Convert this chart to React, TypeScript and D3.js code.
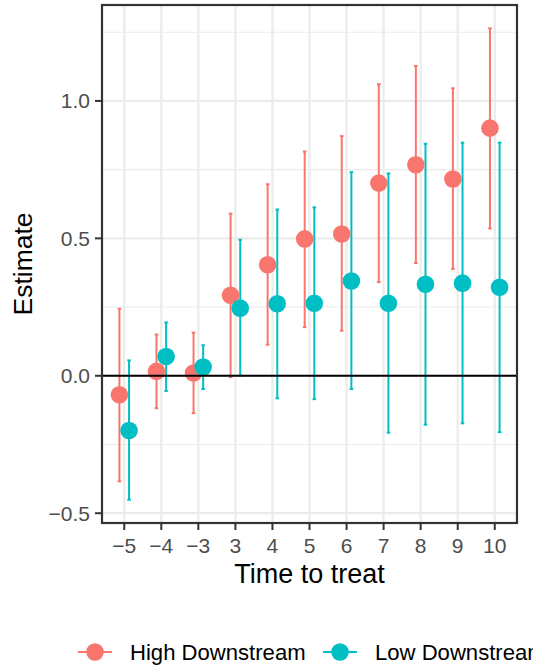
import React from "react";
import * as d3 from "d3";

const categories = ["-5", "-4", "-3", "3", "4", "5", "6", "7", "8", "9", "10"];
const tickLabels = ["\u22125", "\u22124", "\u22123", "3", "4", "5", "6", "7", "8", "9", "10"];
const seriesNames = ["High Downstream", "Low Downstream"];
const seriesColors = ["#F8766D", "#00BFC4"];

const highEst = [-0.069, 0.016, 0.010, 0.293, 0.404, 0.498, 0.516, 0.701, 0.768, 0.716, 0.901];
const highLo = [-0.384, -0.118, -0.136, -0.005, 0.113, 0.177, 0.164, 0.341, 0.410, 0.389, 0.536];
const highHi = [0.244, 0.150, 0.157, 0.590, 0.697, 0.816, 0.872, 1.061, 1.127, 1.046, 1.264];

const lowEst = [-0.199, 0.070, 0.032, 0.246, 0.262, 0.264, 0.345, 0.264, 0.333, 0.337, 0.322];
const lowLo = [-0.451, -0.055, -0.048, 0.001, -0.082, -0.085, -0.048, -0.207, -0.178, -0.173, -0.205];
const lowHi = [0.056, 0.194, 0.111, 0.495, 0.605, 0.613, 0.741, 0.736, 0.844, 0.848, 0.848];

const yTicks = [-0.5, 0, 0.5, 1.0];
const yMinor = [-0.25, 0.25, 0.75, 1.25];

const W = 533;
const H = 667;
const panel = { left: 102, right: 517, top: 5, bottom: 523 };
const FONT = "'Liberation Sans', Arial, Helvetica, sans-serif";

export default function App() {
  const x = d3
    .scalePoint<string>()
    .domain(categories)
    .range([panel.left, panel.right])
    .padding(0.6);
  const step = x.step();
  const y = d3.scaleLinear().domain([-0.5356, 1.349]).range([panel.bottom, panel.top]);

  const series = [
    { est: highEst, lo: highLo, hi: highHi, color: seriesColors[0], off: -0.13 },
    { est: lowEst, lo: lowLo, hi: lowHi, color: seriesColors[1], off: 0.13 },
  ];
  const capW = 1.8;
  const r = 8.8;

  return (
    <svg
      width={W}
      height={H}
      style={{ position: "absolute", left: 0, top: 0, background: "#fff" }}
      fontFamily={FONT}
    >
      <rect x={0} y={0} width={W} height={H} fill="#fff" />
      {/* grid */}
      {yMinor.map((v) => (
        <line key={"mi" + v} x1={panel.left} x2={panel.right} y1={y(v)} y2={y(v)} stroke="#EBEBEB" strokeWidth={1.1} />
      ))}
      {yTicks.map((v) => (
        <line key={"ma" + v} x1={panel.left} x2={panel.right} y1={y(v)} y2={y(v)} stroke="#EBEBEB" strokeWidth={2.2} />
      ))}
      {categories.map((c) => (
        <line key={"vx" + c} x1={x(c)} x2={x(c)} y1={panel.top} y2={panel.bottom} stroke="#EBEBEB" strokeWidth={2.2} />
      ))}
      {/* error bars */}
      {series.map((s, si) =>
        categories.map((c, i) => {
          const cx = (x(c) as number) + s.off * step;
          return (
            <g key={"eb" + si + c} stroke={s.color} strokeWidth={2}>
              <line x1={cx} x2={cx} y1={y(s.lo[i])} y2={y(s.hi[i])} />
              <line x1={cx - capW} x2={cx + capW} y1={y(s.lo[i])} y2={y(s.lo[i])} />
              <line x1={cx - capW} x2={cx + capW} y1={y(s.hi[i])} y2={y(s.hi[i])} />
            </g>
          );
        })
      )}
      {/* points */}
      {series.map((s, si) =>
        categories.map((c, i) => (
          <circle
            key={"pt" + si + c}
            cx={(x(c) as number) + s.off * step}
            cy={y(s.est[i])}
            r={r}
            fill={s.color}
          />
        ))
      )}
      {/* zero line */}
      <line x1={panel.left} x2={panel.right} y1={y(0)} y2={y(0)} stroke="#000" strokeWidth={2} />
      {/* panel border */}
      <rect
        x={panel.left}
        y={panel.top}
        width={panel.right - panel.left}
        height={panel.bottom - panel.top}
        fill="none"
        stroke="#333333"
        strokeWidth={2.2}
      />
      {/* y axis */}
      {yTicks.map((v) => (
        <g key={"yt" + v}>
          <line x1={panel.left - 7} x2={panel.left} y1={y(v)} y2={y(v)} stroke="#333333" strokeWidth={2} />
          <text x={panel.left - 12} y={y(v)} dy="0.36em" textAnchor="end" fontSize={21} fill="#4D4D4D">
            {v === 0 ? "0.0" : v < 0 ? "\u2212" + Math.abs(v).toFixed(1) : v.toFixed(1)}
          </text>
        </g>
      ))}
      {/* x axis */}
      {categories.map((c, i) => (
        <g key={"xt" + c}>
          <line x1={x(c)} x2={x(c)} y1={panel.bottom} y2={panel.bottom + 7} stroke="#333333" strokeWidth={2} />
          <text x={x(c)} y={553} textAnchor="middle" fontSize={21} fill="#4D4D4D">
            {tickLabels[i]}
          </text>
        </g>
      ))}
      {/* titles */}
      <text x={(panel.left + panel.right) / 2} y={583} textAnchor="middle" fontSize={27} fill="#000">
        Time to treat
      </text>
      <text
        transform={`translate(32, ${(panel.top + panel.bottom) / 2}) rotate(-90)`}
        textAnchor="middle"
        fontSize={26.5}
        fill="#000"
      >
        Estimate
      </text>
      {/* legend */}
      {seriesNames.map((name, i) => {
        const kx = i === 0 ? 95 : 340;
        const tx = i === 0 ? 130 : 375;
        const ky = 652;
        return (
          <g key={"lg" + name}>
            <line x1={kx - 17} x2={kx + 17} y1={ky} y2={ky} stroke={seriesColors[i]} strokeWidth={2} />
            <circle cx={kx} cy={ky} r={r} fill={seriesColors[i]} />
            <text x={tx} y={ky} dy="0.36em" fontSize={22.1} fill="#000">
              {name}
            </text>
          </g>
        );
      })}
    </svg>
  );
}
